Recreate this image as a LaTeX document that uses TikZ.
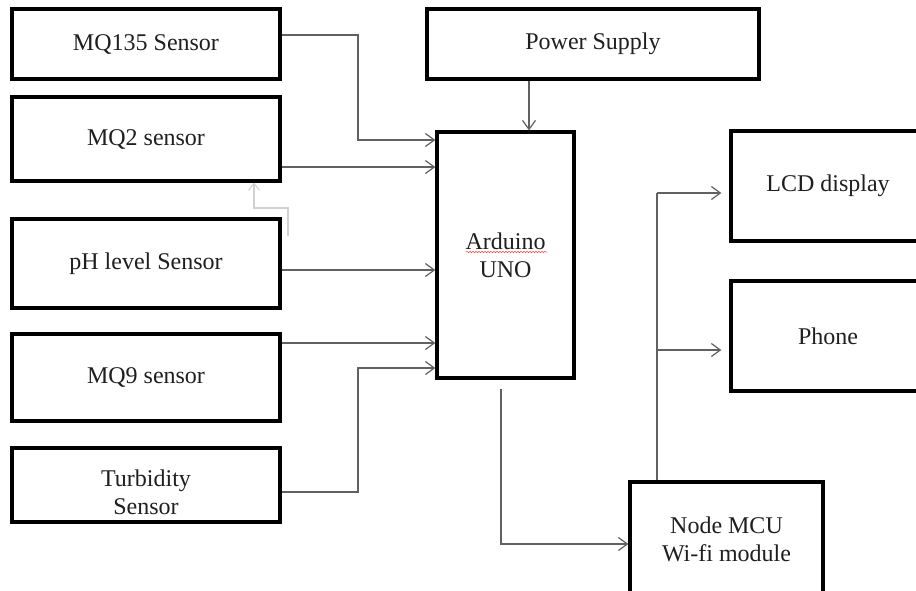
\documentclass[tikz,border=0pt]{standalone}
\usepackage{fontspec}
\setmainfont{Liberation Serif}
\usetikzlibrary{arrows.meta,calc,decorations.pathmorphing}
\begin{document}
\begin{tikzpicture}[x=1pt,y=-1pt,
  blk/.style={draw=black,line width=3.2pt,fill=white,inner sep=0pt,
    text=black!88,font=\fontsize{24}{28}\selectfont,align=center},
  lbl/.style={text=black!88,font=\fontsize{24}{28}\selectfont,align=center,inner sep=0pt},
  conn/.style={draw=black!62,line width=1.3pt,-{Straight Barb[length=9pt,width=13pt,line width=1.2pt]}},
  plain/.style={draw=black!62,line width=1.3pt},
  faint/.style={draw=black!18,line width=1.1pt}]
\clip (0,0) rectangle (916,590);
\fill[white] (0,0) rectangle (916,590);
% boxes
\node[blk,minimum width=268pt,minimum height=70pt] (mq135) at (146,44) {MQ135 Sensor};
\node[blk,minimum width=268pt,minimum height=84pt] (mq2) at (146,139) {MQ2 sensor};
\node[blk,minimum width=268pt,minimum height=89pt] (ph) at (146,263.5) {pH level Sensor};
\node[blk,minimum width=268pt,minimum height=87pt] (mq9) at (146,377.5) {MQ9 sensor};
\node[blk,minimum width=268pt,minimum height=74pt] (turb) at (146,485) {};
\node[lbl] (turbt) at (146,492) {Turbidity\\Sensor};
\node[blk,minimum width=332pt,minimum height=70pt] (power) at (593,44) {Power Supply};
\node[blk,minimum width=137pt,minimum height=246pt] (arduino) at (505.5,255) {Arduino\\UNO};
\node[blk,minimum width=194pt,minimum height=110pt] (lcd) at (828,186) {LCD display};
\node[blk,minimum width=194pt,minimum height=110pt] (phone) at (828,336) {Phone};
\node[blk,minimum width=193pt,minimum height=114pt] (mcu) at (726.5,539) {Node MCU\\Wi-fi module};
% red spell-check underline
\draw[red!70,line width=0.5pt,decorate,decoration={snake,amplitude=0.8pt,segment length=3pt}]
  (466,252) -- (547,252);
% sensor connectors
\draw[conn] (mq135.east |- 0,35) -| (358,140) -- (arduino.west |- 0,140);
\draw[conn] (mq2.east |- 0,167) -- (arduino.west |- 0,167);
\draw[conn] (ph.east |- 0,270) -- (arduino.west |- 0,270);
\draw[conn] (mq9.east |- 0,343) -- (arduino.west |- 0,343);
\draw[conn] (turb.east |- 0,492) -| (358,368) -- (arduino.west |- 0,368);
% faint grey line
\draw[faint,-{Straight Barb[length=7pt,width=11pt,line width=1pt]}]
  (288,236) -- (288,208) -- (254,208) -- (mq2.south -| 254,0);
% power
\draw[conn] (power.south -| 529,0) -- (arduino.north -| 529,0);
% arduino to node mcu
\coordinate (aout) at ($(arduino.south)+(-4.5,9)$);
\draw[conn] (aout) |- (mcu.west |- 0,544);
% node mcu to outputs
\coordinate (split) at (657,193);
\draw[plain] (mcu.north -| 657,0) -- (split);
\draw[conn] (split) -- ($(lcd.west |- split)+(-8,0)$);
\draw[conn] (657,350) -- ($(phone.west |- 0,350)+(-8,0)$);
\end{tikzpicture}
\end{document}
